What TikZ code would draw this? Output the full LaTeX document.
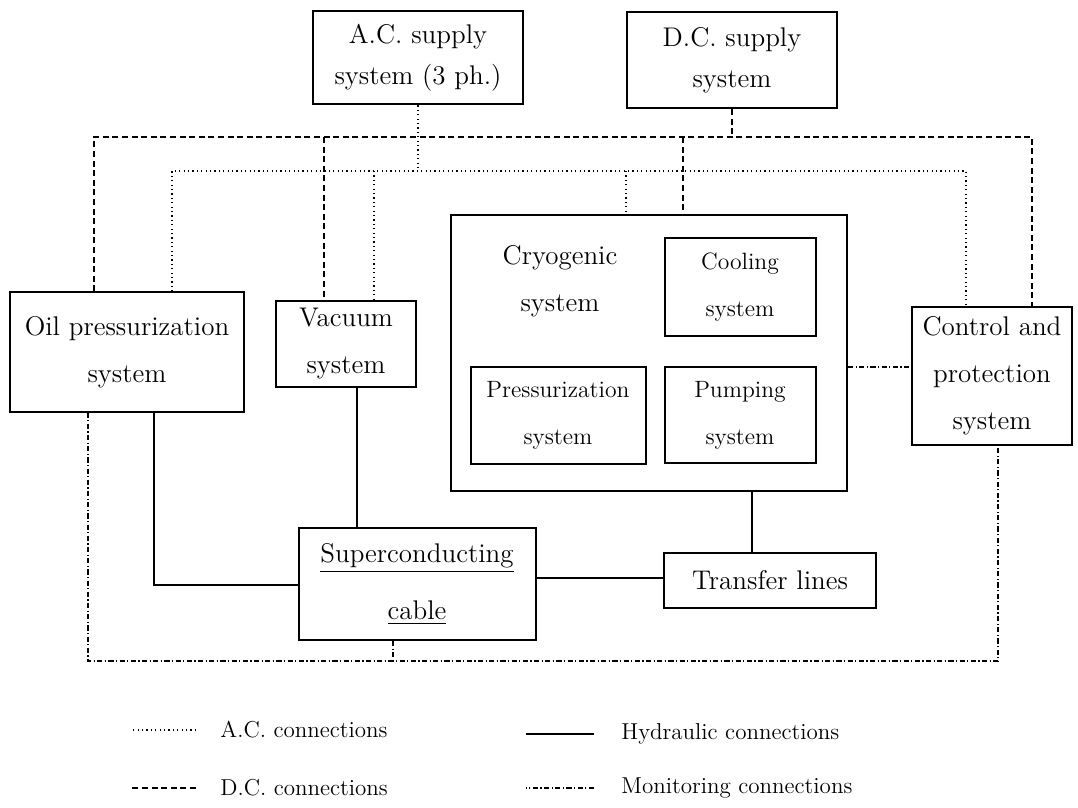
\documentclass[tikz,border=0pt]{standalone}
\usepackage{fontspec}
\usepackage{tikz}
\usetikzlibrary{calc}
\tikzstyle{blk}=[draw, rectangle, line width=1pt, inner sep=0pt, align=center,% plain box
font=\fontsize{13.5}{23.5}\selectfont]
\tikzstyle{sub}=[blk, font=\fontsize{11.8}{23.5}\selectfont]
\tikzstyle{txt}=[inner sep=0pt, align=center, font=\fontsize{13.5}{23.5}\selectfont]
\tikzstyle{legtxt}=[inner sep=0pt, anchor=west, font=\fontsize{11.5}{13}\selectfont]
\tikzstyle{acl}=[line width=0.75pt, dash pattern=on 0.6pt off 1.6pt]
\tikzstyle{dcl}=[line width=0.75pt, dash pattern=on 3pt off 1.8pt]
\tikzstyle{hyl}=[line width=0.75pt]
\tikzstyle{mnl}=[line width=0.75pt, dash pattern=on 2.6pt off 1.2pt on 0.6pt off 1.2pt]

\begin{document}
\begin{tikzpicture}[x=0.5pt,y=-0.5pt]
\useasboundingbox (0,0) rectangle (1078,808);

\node[blk, minimum width=105pt, minimum height=46.5pt, font=\fontsize{13.5}{20.5}\selectfont] (acs) at (418,58) {A.C. supply\\system (3 ph.)};
\node[blk, minimum width=105pt, minimum height=48pt, font=\fontsize{13.5}{20.5}\selectfont] (dcs) at (732,60) {D.C. supply\\system};

\node[blk, minimum width=117pt, minimum height=59.5pt] (oil) at (127,352) {Oil pressurization\\system};
\node[blk, minimum width=70pt, minimum height=42.5pt] (vac) at (346,344) {Vacuum\\system};

\node[blk, minimum width=198pt, minimum height=138pt] (cryo) at (649,353) {};
\node[txt] (cryolbl) at (560,281) {Cryogenic\\system};
\node[sub, minimum width=75.5pt, minimum height=49pt] (cool) at (740,287) {Cooling\\system};
\node[sub, minimum width=87.5pt, minimum height=48.5pt] (press) at (558,415) {Pressurization\\system};
\node[sub, minimum width=75.5pt, minimum height=48pt] (pump) at (740,415) {Pumping\\system};

\node[blk, minimum width=80pt, minimum height=69pt] (ctrl) at (992,376) {Control and\\protection\\system};

\node[blk, minimum width=118.5pt, minimum height=56pt, font=\fontsize{13.5}{28.5}\selectfont] (sc) at (417,584) {\underline{Superconducting}\\\underline{cable}};
\node[blk, minimum width=106pt, minimum height=27.5pt] (trl) at (770,580) {Transfer lines};

% bus points
\coordinate (d1) at (94,137);
\coordinate (d2) at (324,137);
\coordinate (d3) at (683,137);
\coordinate (d4) at (1032,137);
\coordinate (a1) at (172,171);
\coordinate (a2) at (374,171);
\coordinate (a3) at (626,171);
\coordinate (a4) at (966,171);
\coordinate (m1) at (88,661);
\coordinate (m2) at (998,661);
\coordinate (m3) at (393,661);
\coordinate (m4) at (880,367);
\coordinate (h1) at (154,585);
\coordinate (h2) at (357,450);
\coordinate (h3) at (752,520);
\coordinate (h4) at (600,578);

% D.C.
\draw[dcl] (dcs.south) -- (dcs.south |- d1);
\draw[dcl] (d1 |- oil.north) -- (d1) -- (d4) -- (d4 |- ctrl.north);
\draw[dcl] (d2) -- (d2 |- vac.north);
\draw[dcl] (d3) -- (d3 |- cryo.north);

% A.C.
\draw[acl] (acs.south) -- (acs.south |- a1);
\draw[acl] (a1 |- oil.north) -- (a1) -- (a4) -- (a4 |- ctrl.north);
\draw[acl] (a2) -- (a2 |- vac.north);
\draw[acl] (a3) -- (a3 |- cryo.north);

% hydraulic
\draw[hyl] (h1 |- oil.south) -- (h1) -- (h1 -| sc.west);
\draw[hyl] (h2 |- vac.south) -- (h2 |- sc.north);
\draw[hyl] (h3 |- cryo.south) -- (h3 |- trl.north);
\draw[hyl] (h4 -| sc.east) -- (h4 -| trl.west);

% monitoring
\draw[mnl] (m1 |- oil.south) -- (m1) -- (m2) -- (m2 |- ctrl.south);
\draw[mnl] (m3 |- sc.south) -- (m3);
\draw[mnl] (m4 -| cryo.east) -- (m4 -| ctrl.west);

% legend
\node[legtxt] (lgac) at (220,730) {A.C. connections};
\node[legtxt] (lgdc) at (220,788) {D.C. connections};
\node[legtxt] (lghy) at (621,734) {Hydraulic connections};
\node[legtxt] (lgmn) at (621,788) {Monitoring connections};
\draw[acl] ($(lgac.west)+(-24,0)$) -- ++(-65,0);
\draw[dcl] ($(lgdc.west)+(-24,0)$) -- ++(-65,0);
\draw[hyl] ($(lghy.west)+(-27,0)$) -- ++(-68,0);
\draw[mnl] ($(lgmn.west)+(-27,0)$) -- ++(-68,0);

\end{tikzpicture}
\end{document}
